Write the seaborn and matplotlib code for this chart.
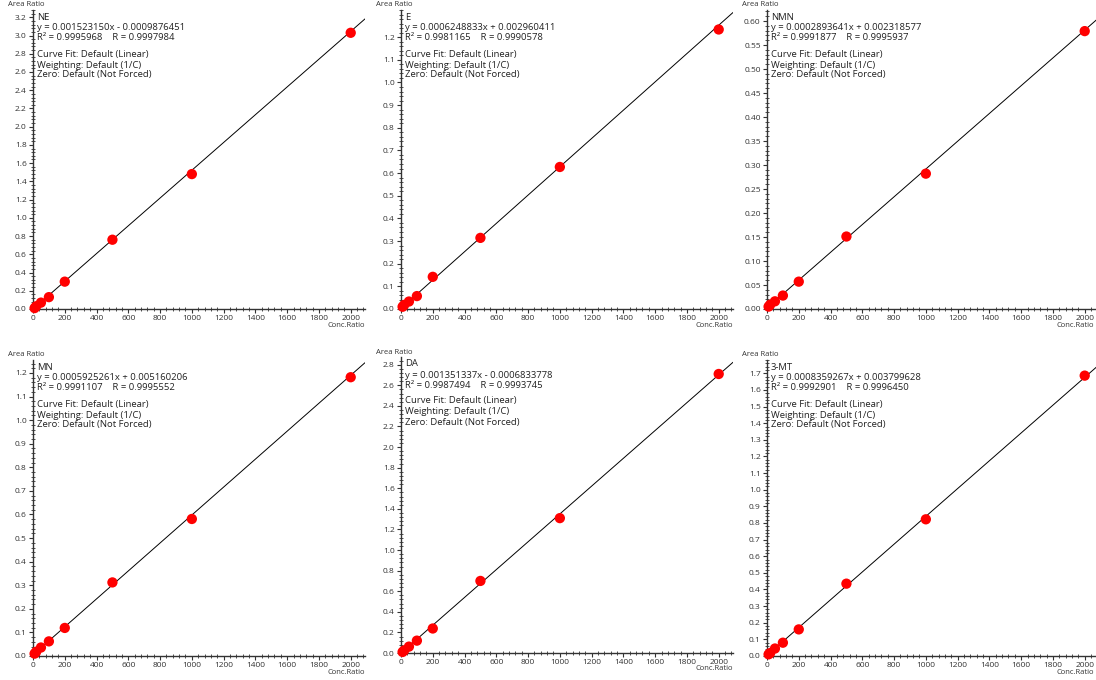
import numpy as np
import pandas as pd
import matplotlib
matplotlib.use("Agg")
import matplotlib.pyplot as plt
import matplotlib.transforms as mtrans
import seaborn as sns
from matplotlib.ticker import MultipleLocator, AutoMinorLocator, FormatStrFormatter

# calibration levels (Conc. Ratio)
conc = [10, 20, 50, 100, 200, 500, 1000, 2000]

# compound names
names = ["NE", "E", "NMN", "MN", "DA", "3-MT"]

# area ratios
ne = [0.01, 0.03, 0.07, 0.13, 0.30, 0.76, 1.48, 3.03]
e = [0.01, 0.018, 0.033, 0.057, 0.142, 0.314, 0.627, 1.234]
nmn = [0.005, 0.009, 0.016, 0.028, 0.057, 0.151, 0.282, 0.579]
mn = [0.01, 0.018, 0.036, 0.062, 0.119, 0.312, 0.581, 1.182]
da = [0.01, 0.025, 0.062, 0.12, 0.238, 0.70, 1.31, 2.71]
mt = [0.01, 0.018, 0.045, 0.08, 0.16, 0.435, 0.822, 1.686]

# fit results shown on each panel
slopes = [0.001523150, 0.0006248833, 0.0002893641, 0.0005925261, 0.001351337, 0.0008359267]
intercepts = [-0.0009876451, 0.002960411, 0.002318577, 0.005160206, -0.0006833778, 0.003799628]
eq_text = [
    "y = 0.001523150x - 0.0009876451",
    "y = 0.0006248833x + 0.002960411",
    "y = 0.0002893641x + 0.002318577",
    "y = 0.0005925261x + 0.005160206",
    "y = 0.001351337x - 0.0006833778",
    "y = 0.0008359267x + 0.003799628",
]
r_text = [
    "R\u00b2 = 0.9995968    R = 0.9997984",
    "R\u00b2 = 0.9981165    R = 0.9990578",
    "R\u00b2 = 0.9991877    R = 0.9995937",
    "R\u00b2 = 0.9991107    R = 0.9995552",
    "R\u00b2 = 0.9987494    R = 0.9993745",
    "R\u00b2 = 0.9992901    R = 0.9996450",
]
fit_info = ["Curve Fit: Default (Linear)", "Weighting: Default (1/C)",
            "Zero: Default (Not Forced)"]
y_tops = [3.2, 1.2, 0.60, 1.2, 2.8, 1.7]
y_steps = [0.2, 0.1, 0.05, 0.1, 0.2, 0.1]
y_lims = [3.28, 1.32, 0.623, 1.255, 2.875, 1.78]

sns.set_style("ticks")
plt.rcParams["font.family"] = ["Open Sans", "DejaVu Sans"]

fig = plt.figure(figsize=(10.96, 6.8), dpi=100)
W, H = 1096, 680
lefts = [33, 401, 767]
# (bottom, top) in pixels for each panel
frames = [(309, 10), (309, 10), (309, 10), (656, 360), (653, 357), (656, 360)]

all_y = [ne, e, nmn, mn, da, mt]
for i in range(6):
    left = lefts[i % 3]
    bot, top = frames[i]
    ax = fig.add_axes([left / W, 1 - bot / H, 332 / W, (bot - top) / H])

    df = pd.DataFrame({"conc": conc, "area": all_y[i]})
    xmax = 2090
    xl = np.array([0, xmax])
    ax.plot(xl, slopes[i] * xl + intercepts[i], color="black", lw=0.7, zorder=2)
    sns.scatterplot(data=df, x="conc", y="area", ax=ax, color="#ff0000",
                    s=55, edgecolor="none", zorder=3, clip_on=False)

    ax.set_yticks(np.arange(0, y_tops[i] + 1e-9, y_steps[i]))
    ax.yaxis.set_major_formatter(FormatStrFormatter("%.2f" if y_steps[i] == 0.05 else "%.1f"))
    ax.xaxis.set_major_locator(MultipleLocator(200))
    ax.xaxis.set_minor_locator(AutoMinorLocator(5))
    ax.yaxis.set_minor_locator(AutoMinorLocator(5))
    ax.set_xlim(0, xmax)
    ax.set_ylim(0, y_lims[i])
    ax.set_xlabel("")
    ax.set_ylabel("")
    sns.despine(ax=ax)
    for s in ["left", "bottom"]:
        ax.spines[s].set_linewidth(1.0)
        ax.spines[s].set_color("#333333")
    ax.tick_params(which="major", direction="out", length=3, width=0.8,
                   labelsize=6, colors="#333333", pad=1.5)
    ax.tick_params(which="minor", direction="inout", length=2.5, width=0.6,
                   colors="#333333")

    # annotation block, pixel offsets from the axes top-left corner
    ys = [7, 18, 28, 44, 55, 65]
    txt = [names[i], eq_text[i], r_text[i]] + fit_info
    for k, t in enumerate(txt):
        tr = mtrans.offset_copy(ax.transAxes, fig=fig, x=4, y=-ys[k], units="dots")
        ax.text(0, 1, t, transform=tr, fontsize=6.8, va="center", ha="left",
                color="#222222")

    fig.text((left - 25) / W, 1 - (top - 5) / H, "Area Ratio", fontsize=5.5,
             va="center", ha="left", color="#333333")
    fig.text(min(left + 332, W - 2) / W, 1 - (bot + 16) / H, "Conc.Ratio",
             fontsize=5.5, va="center", ha="right", color="#333333")

fig.savefig("out.png", dpi=100)
